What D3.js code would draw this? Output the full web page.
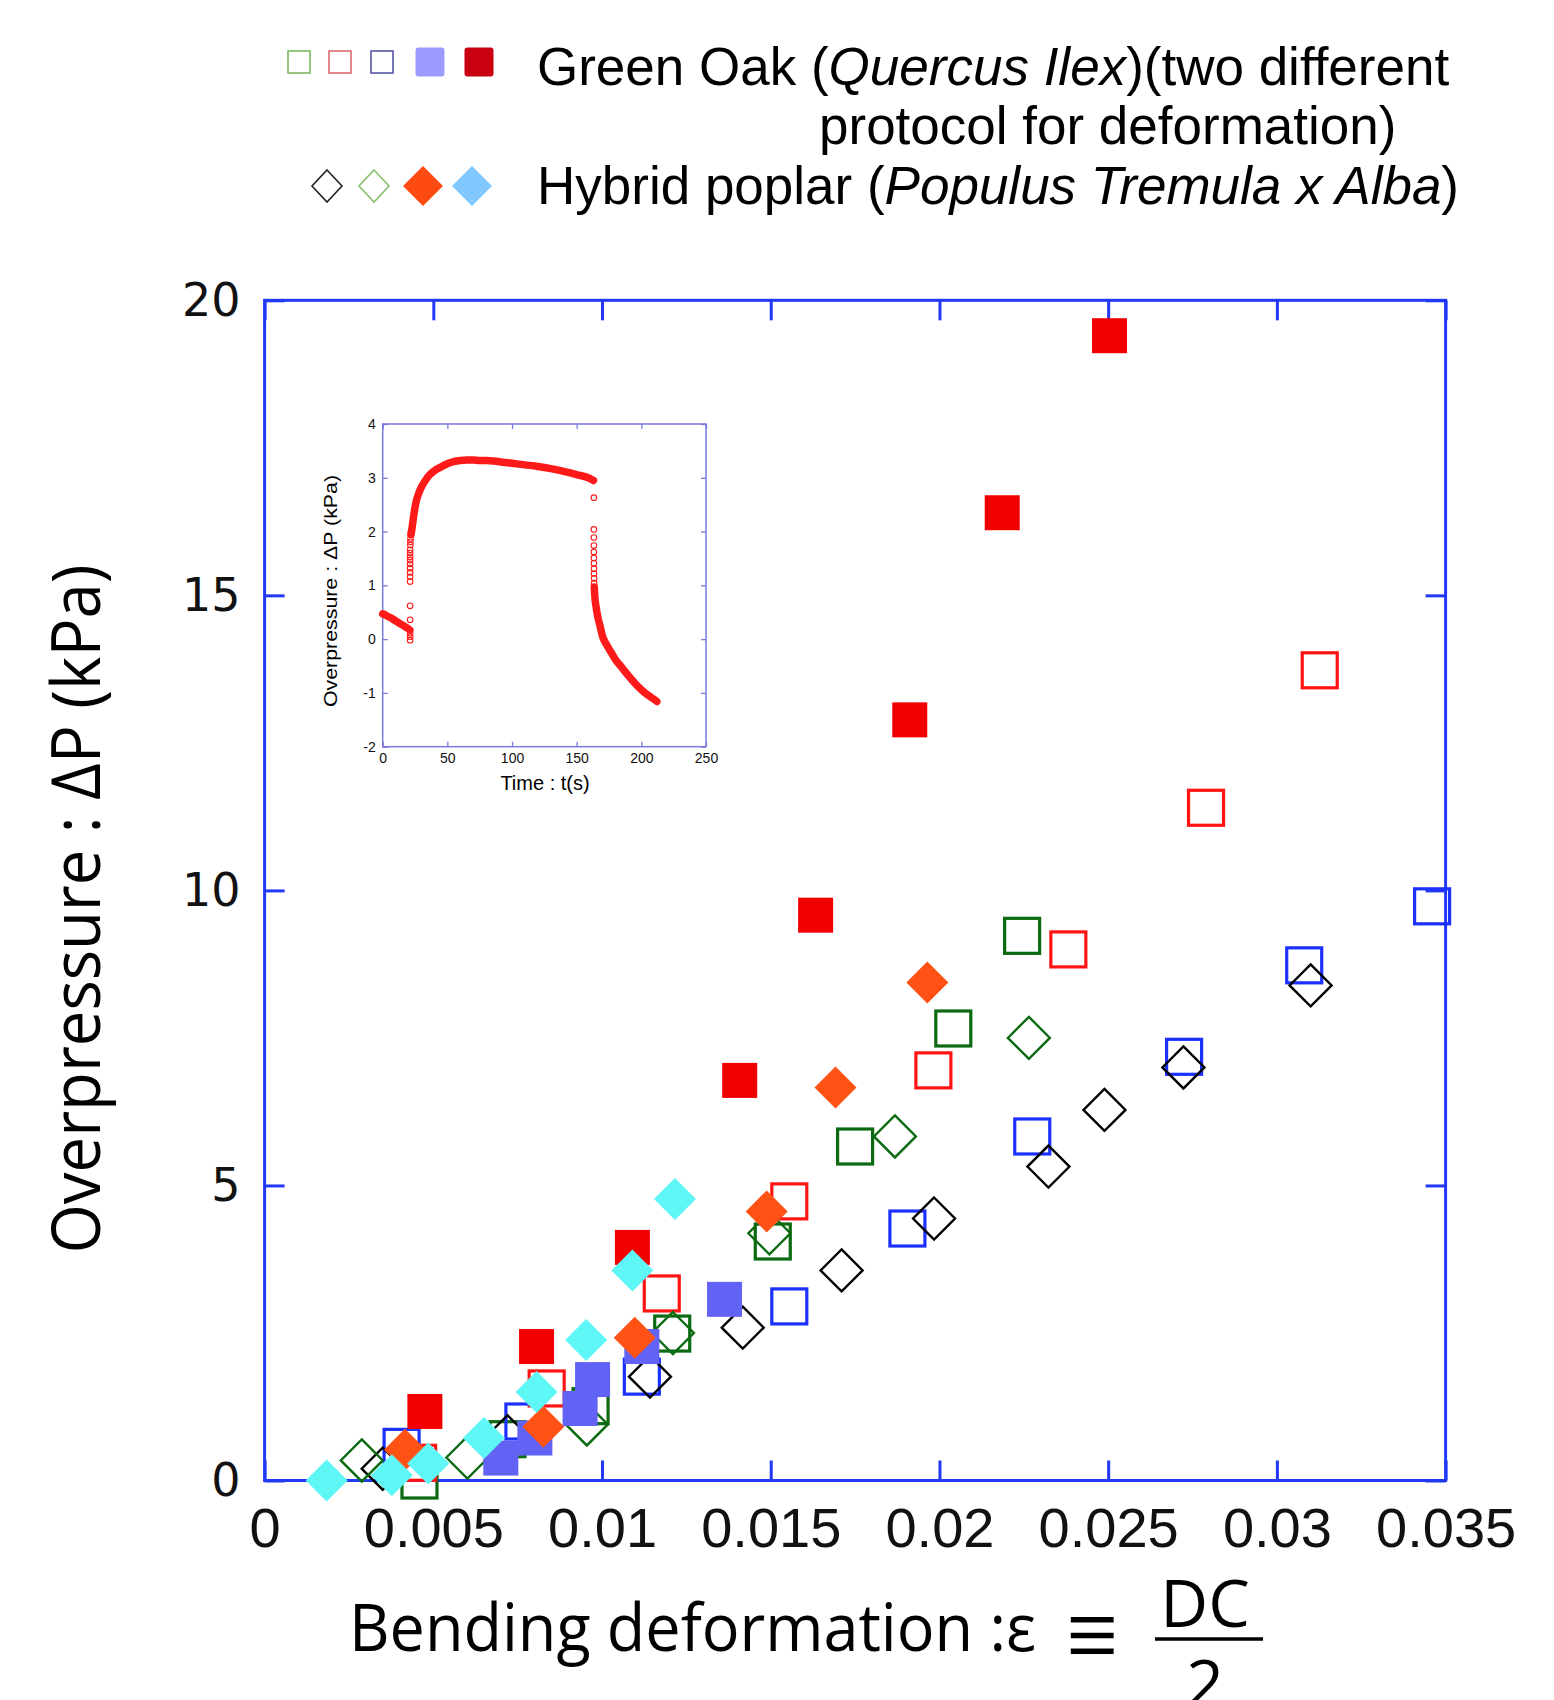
<!DOCTYPE html>
<html>
<head>
<meta charset="utf-8">
<script src="https://cdn.jsdelivr.net/npm/d3@7"></script>
<style>
  html, body { margin: 0; padding: 0; background: #ffffff; }
  svg { display: block; }
</style>
</head>
<body>
<script>
// ---------------- DATA ----------------
// main axes
const xTicks = [0, 0.005, 0.01, 0.015, 0.02, 0.025, 0.03, 0.035];
const xTickLabels = ["0", "0.005", "0.01", "0.015", "0.02", "0.025", "0.03", "0.035"];
const yTicks = [0, 5, 10, 15, 20];
const yTickLabels = ["0", "5", "10", "15", "20"];

// Green oak, open dark-green squares
const oakGreenOpen = [[0.00459, 0.0], [0.0072, 0.70], [0.00966, 1.26], [0.01208, 2.49], [0.01506, 4.05], [0.0175, 5.66], [0.02041, 7.66], [0.02245, 9.23]];
// Green oak, open red squares
const oakRedOpen = [[0.00455, 0.30], [0.00836, 1.56], [0.01177, 3.17], [0.01555, 4.73], [0.01982, 6.95], [0.02382, 9.0], [0.0279, 11.4], [0.03127, 13.73]];
// Green oak, open blue squares
const oakBlueOpen = [[0.00406, 0.57], [0.00767, 1.0], [0.01118, 1.76], [0.01555, 2.95], [0.01905, 4.27], [0.02275, 5.83], [0.02725, 7.18], [0.03081, 8.73], [0.0346, 9.73]];
// Green oak, filled purple squares
const oakPurpleFilled = [[0.0070, 0.38], [0.00801, 0.72], [0.00935, 1.22], [0.00972, 1.71], [0.01118, 2.27], [0.01363, 3.07]];
// Green oak, filled red squares
const oakRedFilled = [[0.00475, 1.17], [0.00806, 2.27], [0.0109, 3.95], [0.01408, 6.78], [0.01633, 9.58], [0.01912, 12.89], [0.02186, 16.4], [0.02504, 19.4]];
// Poplar, open black diamonds
const poplarBlackOpen = [[0.0035, 0.20], [0.0072, 0.75], [0.01142, 1.76], [0.01417, 2.59], [0.0171, 3.56], [0.01984, 4.44], [0.02323, 5.32], [0.02489, 6.28], [0.02723, 7.0], [0.031, 8.39]];
// Poplar, open green diamonds
const poplarGreenOpen = [[0.00288, 0.34], [0.00601, 0.39], [0.00955, 0.95], [0.0121, 2.5], [0.01496, 4.19], [0.01868, 5.83], [0.02265, 7.5]];
// Poplar, filled orange diamonds
const poplarOrangeFilled = [[0.00416, 0.52], [0.00826, 0.91], [0.01097, 2.42], [0.01488, 4.56], [0.01692, 6.66], [0.01964, 8.44]];
// Poplar, filled cyan diamonds
const poplarCyanFilled = [[0.00184, 0.0], [0.00377, 0.09], [0.00485, 0.29], [0.0065, 0.72], [0.00806, 1.5], [0.00953, 2.38], [0.0109, 3.56], [0.01216, 4.77]];

// inset: overpressure vs time
const insetXTicks = [0, 50, 100, 150, 200, 250];
const insetYTicks = [-2, -1, 0, 1, 2, 3, 4];
const insetSeg1 = [[0, 0.47], [2, 0.45], [4, 0.42], [6, 0.40], [8, 0.37], [10, 0.34], [12, 0.31], [14, 0.28], [16, 0.25], [18, 0.22], [20, 0.19], [21, 0.17]];
const insetJump1 = [[21.2, -0.02], [21.2, 0.045], [21.2, 0.11], [21.2, 0.36], [21.2, 0.62], [21.2, 1.07], [21.2, 1.16], [21.2, 1.24], [21.2, 1.32], [21.2, 1.40], [21.2, 1.47], [21.2, 1.53], [21.2, 1.60], [21.2, 1.66], [21.4, 1.75], [21.4, 1.81], [21.5, 1.87], [21.6, 1.94], [21.8, 2.0]];
const insetSeg2 = [[22, 1.95], [23, 2.12], [24, 2.3], [25, 2.45], [26, 2.57], [28, 2.72], [30, 2.83], [33, 2.95], [36, 3.05], [40, 3.13], [45, 3.2], [50, 3.26], [55, 3.3], [60, 3.32], [65, 3.33], [70, 3.33], [75, 3.32], [80, 3.32], [90, 3.30], [100, 3.27], [110, 3.24], [120, 3.21], [130, 3.17], [140, 3.12], [150, 3.06], [160, 2.99], [163, 2.95]];
const insetJump2 = [[163.3, 2.63], [163.3, 2.04], [163.3, 1.89], [163.3, 1.74], [163.3, 1.62], [163.3, 1.51], [163.3, 1.41], [163.4, 1.31], [163.4, 1.22], [163.5, 1.13], [163.5, 1.04]];
const insetSeg3 = [[163.6, 0.97], [164, 0.8], [165, 0.6], [166, 0.45], [168, 0.25], [170, 0.05], [173, -0.1], [176, -0.22], [180, -0.38], [185, -0.53], [190, -0.68], [195, -0.82], [200, -0.94], [205, -1.04], [210, -1.12], [212, -1.16]];

// legend
const legendSquareColors = ["#7ab860", "#e06a74", "#5656a6"];
const legendFilledSquareColors = ["#9c9cff", "#c8000f"];
const legendDiamondOpenColors = ["#222222", "#86c06a"];
const legendDiamondFilledColors = ["#ff4a12", "#80c8ff"];

// ---------------- DRAWING ----------------
const W = 1554, H = 1700;
const svg = d3.select("body").append("svg").attr("width", W).attr("height", H)
  .attr("viewBox", `0 0 ${W} ${H}`);
svg.append("rect").attr("width", W).attr("height", H).attr("fill", "#fff");

const axisBlue = "#2138f5";
const x = d3.scaleLinear().domain([0, 0.035]).range([264.6, 1445.6]);
const y = d3.scaleLinear().domain([0, 20]).range([1480.5, 300.3]);

// frame
svg.append("rect")
  .attr("x", x(0)).attr("y", y(20))
  .attr("width", x(0.035) - x(0)).attr("height", y(0) - y(20))
  .attr("fill", "none").attr("stroke", axisBlue).attr("stroke-width", 3);

function styleAxis(g) {
  g.select(".domain").remove();
  g.selectAll(".tick line").attr("stroke", axisBlue).attr("stroke-width", 3);
}

const gxB = svg.append("g").attr("transform", `translate(0,${y(0)})`)
  .call(d3.axisBottom(x).tickValues(xTicks).tickSize(-20).tickPadding(27)
    .tickFormat((d, i) => xTickLabels[i]));
styleAxis(gxB);
gxB.selectAll("text").attr("font-family", "'Liberation Sans', Arial, sans-serif")
  .attr("font-size", 56).attr("fill", "#111");

const gxT = svg.append("g").attr("transform", `translate(0,${y(20)})`)
  .call(d3.axisTop(x).tickValues(xTicks).tickSize(-20).tickFormat(""));
styleAxis(gxT);

const gyL = svg.append("g").attr("transform", `translate(${x(0)},0)`)
  .call(d3.axisLeft(y).tickValues(yTicks).tickSize(-20).tickPadding(24)
    .tickFormat((d, i) => yTickLabels[i]));
styleAxis(gyL);
gyL.selectAll("text").attr("font-family", "'DejaVu Sans', Verdana, sans-serif")
  .attr("font-size", 46).attr("fill", "#111");

const gyR = svg.append("g").attr("transform", `translate(${x(0.035)},0)`)
  .call(d3.axisRight(y).tickValues(yTicks).tickSize(-20).tickFormat(""));
styleAxis(gyR);

// marker helpers
const SQ = 35, DH = 21;
function drawSquares(data, color, filled) {
  svg.append("g").selectAll("rect").data(data).join("rect")
    .attr("x", d => x(d[0]) - SQ / 2).attr("y", d => y(d[1]) - SQ / 2)
    .attr("width", SQ).attr("height", SQ)
    .attr("fill", filled ? color : "none")
    .attr("stroke", filled ? "none" : color)
    .attr("stroke-width", filled ? 0 : 3.2);
}
function diamondPath(cx, cy, h) {
  return `M${cx},${cy - h}L${cx + h},${cy}L${cx},${cy + h}L${cx - h},${cy}Z`;
}
function drawDiamonds(data, color, filled) {
  svg.append("g").selectAll("path").data(data).join("path")
    .attr("d", d => diamondPath(x(d[0]), y(d[1]), DH))
    .attr("fill", filled ? color : "none")
    .attr("stroke", filled ? "none" : color)
    .attr("stroke-width", filled ? 0 : 2.4);
}

drawSquares(oakGreenOpen, "#0b6a12", false);
drawSquares(oakRedOpen, "#ff1414", false);
drawSquares(oakBlueOpen, "#1c30ff", false);
drawDiamonds(poplarBlackOpen, "#000000", false);
drawDiamonds(poplarGreenOpen, "#0b6a12", false);
drawSquares(oakPurpleFilled, "#6262f4", true);
drawSquares(oakRedFilled, "#f20000", true);
drawDiamonds(poplarOrangeFilled, "#ff5214", true);
drawDiamonds(poplarCyanFilled, "#5ff6f6", true);

// axis titles
svg.append("text")
  .attr("transform", "translate(100,909) rotate(-90)")
  .attr("text-anchor", "middle")
  .attr("font-family", "'Open Sans', 'Noto Sans', sans-serif")
  .attr("font-size", 68).attr("fill", "#000")
  .attr("textLength", 689).attr("lengthAdjust", "spacingAndGlyphs")
  .text("Overpressure : ΔP  (kPa)");

svg.append("text")
  .attr("x", 349).attr("y", 1651)
  .attr("font-family", "'Open Sans', 'Noto Sans', sans-serif")
  .attr("font-size", 66).attr("fill", "#000")
  .attr("textLength", 687).attr("lengthAdjust", "spacingAndGlyphs")
  .text("Bending deformation :ε");
svg.append("text")
  .attr("x", 1066).attr("y", 1672)
  .attr("font-family", "'Liberation Serif', 'Times New Roman', serif")
  .attr("font-size", 110).attr("fill", "#000")
  .attr("textLength", 52).attr("lengthAdjust", "spacingAndGlyphs")
  .text("≡");
svg.append("text")
  .attr("x", 1205).attr("y", 1627).attr("text-anchor", "middle")
  .attr("font-family", "'Open Sans', 'Noto Sans', sans-serif")
  .attr("font-size", 66).attr("fill", "#000")
  .text("DC");
svg.append("line").attr("x1", 1155).attr("x2", 1263).attr("y1", 1639).attr("y2", 1639)
  .attr("stroke", "#000").attr("stroke-width", 3.5);
svg.append("text")
  .attr("x", 1205).attr("y", 1707).attr("text-anchor", "middle")
  .attr("font-family", "'Open Sans', 'Noto Sans', sans-serif")
  .attr("font-size", 66).attr("fill", "#000")
  .text("2");

// ---------------- INSET ----------------
const insetBlue = "#7a7ae0";
const xi = d3.scaleLinear().domain([0, 250]).range([382.7, 706]);
const yi = d3.scaleLinear().domain([-2, 4]).range([746.7, 424]);
const ins = svg.append("g");
ins.append("rect").attr("x", xi(0)).attr("y", yi(4))
  .attr("width", xi(250) - xi(0)).attr("height", yi(-2) - yi(4))
  .attr("fill", "#fff").attr("stroke", insetBlue).attr("stroke-width", 1.5);

function styleInsetAxis(g) {
  g.select(".domain").remove();
  g.selectAll(".tick line").attr("stroke", insetBlue).attr("stroke-width", 1.3);
  g.selectAll("text").attr("font-family", "'Liberation Sans', Arial, sans-serif")
    .attr("font-size", 14).attr("fill", "#111");
}
const fmtInt = d3.format("d");
styleInsetAxis(ins.append("g").attr("transform", `translate(0,${yi(-2)})`)
  .call(d3.axisBottom(xi).tickValues(insetXTicks).tickSize(-5).tickPadding(6).tickFormat(fmtInt)));
styleInsetAxis(ins.append("g").attr("transform", `translate(0,${yi(4)})`)
  .call(d3.axisTop(xi).tickValues(insetXTicks).tickSize(-5).tickFormat("")));
styleInsetAxis(ins.append("g").attr("transform", `translate(${xi(0)},0)`)
  .call(d3.axisLeft(yi).tickValues(insetYTicks).tickSize(-5).tickPadding(7)
    .tickFormat(d => String(d))));
styleInsetAxis(ins.append("g").attr("transform", `translate(${xi(250)},0)`)
  .call(d3.axisRight(yi).tickValues(insetYTicks).tickSize(-5).tickFormat("")));

const red = "#ff1a1a";
const line = d3.line().x(d => xi(d[0])).y(d => yi(d[1])).curve(d3.curveMonotoneX);
[insetSeg1, insetSeg2, insetSeg3].forEach(seg => {
  ins.append("path").attr("d", line(seg)).attr("fill", "none")
    .attr("stroke", red).attr("stroke-width", 7.5).attr("stroke-linecap", "round")
    .attr("stroke-linejoin", "round");
});
[insetJump1, insetJump2].forEach(pts => {
  ins.append("g").selectAll("circle").data(pts).join("circle")
    .attr("cx", d => xi(d[0])).attr("cy", d => yi(d[1])).attr("r", 2.8)
    .attr("fill", "none").attr("stroke", red).attr("stroke-width", 1.1);
});

ins.append("text")
  .attr("transform", "translate(337,591) rotate(-90)")
  .attr("text-anchor", "middle")
  .attr("font-family", "'Liberation Sans', Arial, sans-serif")
  .attr("font-size", 18).attr("fill", "#000")
  .attr("textLength", 232).attr("lengthAdjust", "spacingAndGlyphs")
  .text("Overpressure : ΔP (kPa)");
ins.append("text")
  .attr("x", 545).attr("y", 790).attr("text-anchor", "middle")
  .attr("font-family", "'Liberation Sans', Arial, sans-serif")
  .attr("font-size", 20).attr("fill", "#000")
  .text("Time : t(s)");

// ---------------- LEGEND ----------------
const leg = svg.append("g");
const legSquareX = [299, 340, 382];
legSquareX.forEach((cx, i) => {
  leg.append("rect").attr("x", cx - 11).attr("y", 62 - 11).attr("width", 22).attr("height", 22)
    .attr("fill", "none").attr("stroke", legendSquareColors[i]).attr("stroke-width", 1.6);
});
const legFilledX = [430, 479];
legFilledX.forEach((cx, i) => {
  leg.append("rect").attr("x", cx - 14.5).attr("y", 62 - 14.5).attr("width", 29).attr("height", 29)
    .attr("rx", 3).attr("fill", legendFilledSquareColors[i]);
});
const legDiamondOpenX = [327, 374];
legDiamondOpenX.forEach((cx, i) => {
  leg.append("path").attr("d", `M${cx},${186 - 16}L${cx + 15},186L${cx},${186 + 16}L${cx - 15},186Z`)
    .attr("fill", "none").attr("stroke", legendDiamondOpenColors[i]).attr("stroke-width", 1.6);
});
const legDiamondFilledX = [423, 472];
legDiamondFilledX.forEach((cx, i) => {
  leg.append("path").attr("d", `M${cx},${186 - 20}L${cx + 20},186L${cx},${186 + 20}L${cx - 20},186Z`)
    .attr("fill", legendDiamondFilledColors[i]);
});

const legFont = "'Liberation Sans', Arial, Helvetica, sans-serif";
const t1 = leg.append("text").attr("x", 537).attr("y", 85)
  .attr("font-family", legFont).attr("font-size", 53).attr("fill", "#000");
t1.append("tspan").text("Green Oak (");
t1.append("tspan").attr("font-style", "italic").text("Quercus Ilex");
t1.append("tspan").text(")(two different");
leg.append("text").attr("x", 819).attr("y", 144)
  .attr("font-family", legFont).attr("font-size", 53).attr("fill", "#000")
  .text("protocol for deformation)");
const t3 = leg.append("text").attr("x", 537).attr("y", 204)
  .attr("font-family", legFont).attr("font-size", 53).attr("fill", "#000");
t3.append("tspan").text("Hybrid poplar (");
t3.append("tspan").attr("font-style", "italic").text("Populus Tremula x Alba");
t3.append("tspan").text(")");
</script>
</body>
</html>
